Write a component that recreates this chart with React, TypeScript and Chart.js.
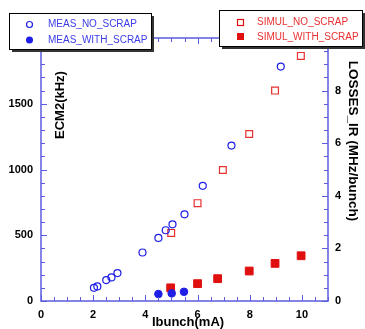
import React, { useEffect, useRef } from "react";
import { Chart, registerables } from "chart.js";

Chart.register(...registerables);

const measNoScrapX = [2.03, 2.16, 2.5, 2.7, 2.93, 3.89, 4.5, 4.78, 5.04, 5.5, 6.2, 7.3, 9.19];
const measNoScrapY = [100, 111, 159, 179, 212, 369, 480, 538, 583, 659, 876, 1182, 1783];
const measWithScrapX = [4.5, 5.01, 5.48];
const measWithScrapY = [53, 58, 70];
const simNoScrapX = [4.99, 6.0, 6.97, 7.98, 8.97, 9.96];
const simNoScrapY = [2.59, 3.72, 4.98, 6.35, 8.0, 9.32];
const simWithScrapX = [4.97, 6.0, 6.77, 7.98, 8.97, 9.97];
const simWithScrapY = [0.5, 0.66, 0.85, 1.14, 1.43, 1.72];

const xTicks = [0, 2, 4, 6, 8, 10];
const leftTicks = [0, 500, 1000, 1500];
const rightTicks = [0, 2, 4, 6, 8];

const AXIS = "#5c5ce0";
const BLUE = "#1e1ee6";
const RED = "#e01010";
const FONT = "'Liberation Sans', Arial, sans-serif";

const pts = (xs: number[], ys: number[]) => xs.map((x, i) => ({ x, y: ys[i] }));

export default function App() {
  const ref = useRef<HTMLCanvasElement>(null);
  useEffect(() => {
    document.body.style.margin = "0";
    const deco = {
      id: "deco",
      afterDraw(chart: any) {
        const { ctx, chartArea: a, scales } = chart;
        const x = scales.x, y = scales.y, y2 = scales.y2;
        ctx.save();
        ctx.strokeStyle = AXIS;
        ctx.lineWidth = 1.5;
        ctx.beginPath();
        ctx.moveTo(a.left, a.top);
        ctx.lineTo(a.left, a.bottom);
        ctx.lineTo(a.right, a.bottom);
        ctx.lineTo(a.right, a.top);
        ctx.moveTo(a.left, a.top);
        ctx.lineTo(a.right, a.top);
        ctx.stroke();
        ctx.lineWidth = 1;
        ctx.beginPath();
        for (let v = 0; v <= 11.001; v += 0.5) {
          const px = Math.round(x.getPixelForValue(v)) + 0.5;
          const L = Math.abs(v % 2) < 1e-6 ? 6 : 4;
          ctx.moveTo(px, a.bottom);
          ctx.lineTo(px, a.bottom - L);
          ctx.moveTo(px, a.top);
          ctx.lineTo(px, a.top + L);
        }
        for (let v = 0; v <= 2000; v += 100) {
          const py = Math.round(y.getPixelForValue(v)) + 0.5;
          const L = v % 500 === 0 ? 6 : 4;
          ctx.moveTo(a.left, py);
          ctx.lineTo(a.left + L, py);
        }
        for (let v = 0; v <= 10.001; v += 0.5) {
          const py = Math.round(y2.getPixelForValue(v)) + 0.5;
          const L = Math.abs(v % 2) < 1e-6 ? 6 : 4;
          ctx.moveTo(a.right, py);
          ctx.lineTo(a.right - L, py);
        }
        ctx.stroke();

        // axis titles
        ctx.fillStyle = "#000";
        ctx.font = `bold 13px ${FONT}`;
        ctx.textAlign = "center";
        ctx.textBaseline = "middle";
        ctx.fillText("Ibunch(mA)", 188, 322);
        ctx.save();
        ctx.translate(60, 105);
        ctx.rotate(-Math.PI / 2);
        ctx.fillText("ECM2(kHz)", 0, 0);
        ctx.restore();
        ctx.save();
        ctx.translate(353, 141);
        ctx.rotate(Math.PI / 2);
        ctx.font = `bold 13.5px ${FONT}`;
        ctx.fillText("LOSSES_IR (MHz/bunch)", 0, 0);
        ctx.restore();

        // legends
        const box = (bx: number, by: number, bw: number, bh: number) => {
          ctx.fillStyle = "#333";
          ctx.fillRect(bx + 3, by + 3, bw, bh);
          ctx.fillStyle = "#fff";
          ctx.fillRect(bx, by, bw, bh);
          ctx.strokeStyle = "#000";
          ctx.lineWidth = 1;
          ctx.strokeRect(bx + 0.5, by + 0.5, bw, bh);
        };
        box(9, 13, 142, 36);
        box(219, 10, 143, 36);
        ctx.font = `10px ${FONT}`;
        ctx.textAlign = "left";
        ctx.textBaseline = "middle";
        // left legend
        ctx.strokeStyle = BLUE;
        ctx.lineWidth = 1.2;
        ctx.beginPath();
        ctx.arc(29.5, 24.5, 3, 0, Math.PI * 2);
        ctx.stroke();
        ctx.fillStyle = BLUE;
        ctx.beginPath();
        ctx.arc(29.5, 40, 3.5, 0, Math.PI * 2);
        ctx.fill();
        ctx.fillStyle = "#3c3ce8";
        ctx.fillText("MEAS_NO_SCRAP", 48, 24.5);
        ctx.fillText("MEAS_WITH_SCRAP", 48, 40);
        // right legend
        ctx.strokeStyle = RED;
        ctx.strokeRect(237.5, 19.5, 6, 6);
        ctx.fillStyle = RED;
        ctx.fillRect(237, 33, 7, 7);
        ctx.fillStyle = "#e83030";
        ctx.fillText("SIMUL_NO_SCRAP", 257, 22.5);
        ctx.fillText("SIMUL_WITH_SCRAP", 257, 37);
        ctx.restore();
      },
    };

    const tickFont = { family: FONT, size: 11, weight: "bold" as const };
    const gridOff = { display: false, drawTicks: false, tickLength: 0 };
    const chart = new Chart(ref.current!, {
      type: "scatter",
      data: {
        datasets: [
          {
            label: "MEAS_NO_SCRAP",
            data: pts(measNoScrapX, measNoScrapY),
            yAxisID: "y",
            pointStyle: "circle",
            pointRadius: 3.5,
            borderColor: BLUE,
            backgroundColor: "rgba(0,0,0,0)",
            borderWidth: 1.2,
          },
          {
            label: "MEAS_WITH_SCRAP",
            data: pts(measWithScrapX, measWithScrapY),
            yAxisID: "y",
            pointStyle: "circle",
            pointRadius: 3.8,
            borderColor: BLUE,
            backgroundColor: BLUE,
            borderWidth: 1,
          },
          {
            label: "SIMUL_NO_SCRAP",
            data: pts(simNoScrapX, simNoScrapY),
            yAxisID: "y2",
            pointStyle: "rect",
            pointRadius: 4.8,
            borderColor: "#e83030",
            backgroundColor: "rgba(0,0,0,0)",
            borderWidth: 1.2,
          },
          {
            label: "SIMUL_WITH_SCRAP",
            data: pts(simWithScrapX, simWithScrapY),
            yAxisID: "y2",
            pointStyle: "rect",
            pointRadius: 5.5,
            borderColor: RED,
            backgroundColor: RED,
            borderWidth: 1,
          },
        ],
      },
      options: {
        responsive: false,
        animation: false,
        layout: { padding: { top: 38, left: 0, right: 0, bottom: 0 } },
        plugins: { legend: { display: false }, tooltip: { enabled: false } },
        scales: {
          x: {
            type: "linear",
            position: "bottom",
            min: 0,
            max: 11,
            grid: gridOff,
            border: { display: false },
            ticks: { font: tickFont, color: "#000", padding: 7, callback: (v: any) => String(v) },
            afterBuildTicks: (s: any) => {
              s.ticks = xTicks.map((v) => ({ value: v }));
            },
            afterFit: (s: any) => {
              s.height = 28;
            },
          },
          y: {
            type: "linear",
            position: "left",
            min: 0,
            max: 2000,
            grid: gridOff,
            border: { display: false },
            ticks: { font: tickFont, color: "#000", padding: 8, callback: (v: any) => String(v) },
            afterBuildTicks: (s: any) => {
              s.ticks = leftTicks.map((v) => ({ value: v }));
            },
            afterFit: (s: any) => {
              s.width = 41;
            },
          },
          y2: {
            type: "linear",
            position: "right",
            min: 0,
            max: 10,
            grid: gridOff,
            border: { display: false },
            ticks: { font: tickFont, color: "#000", padding: 7, callback: (v: any) => String(v) },
            afterBuildTicks: (s: any) => {
              s.ticks = rightTicks.map((v) => ({ value: v }));
            },
            afterFit: (s: any) => {
              s.width = 37;
            },
          },
        },
      },
      plugins: [deco],
    });
    return () => chart.destroy();
  }, []);
  return (
    <div style={{ position: "absolute", left: 0, top: 0, width: 365, height: 329, background: "#fff" }}>
      <canvas ref={ref} width={365} height={329} />
    </div>
  );
}
